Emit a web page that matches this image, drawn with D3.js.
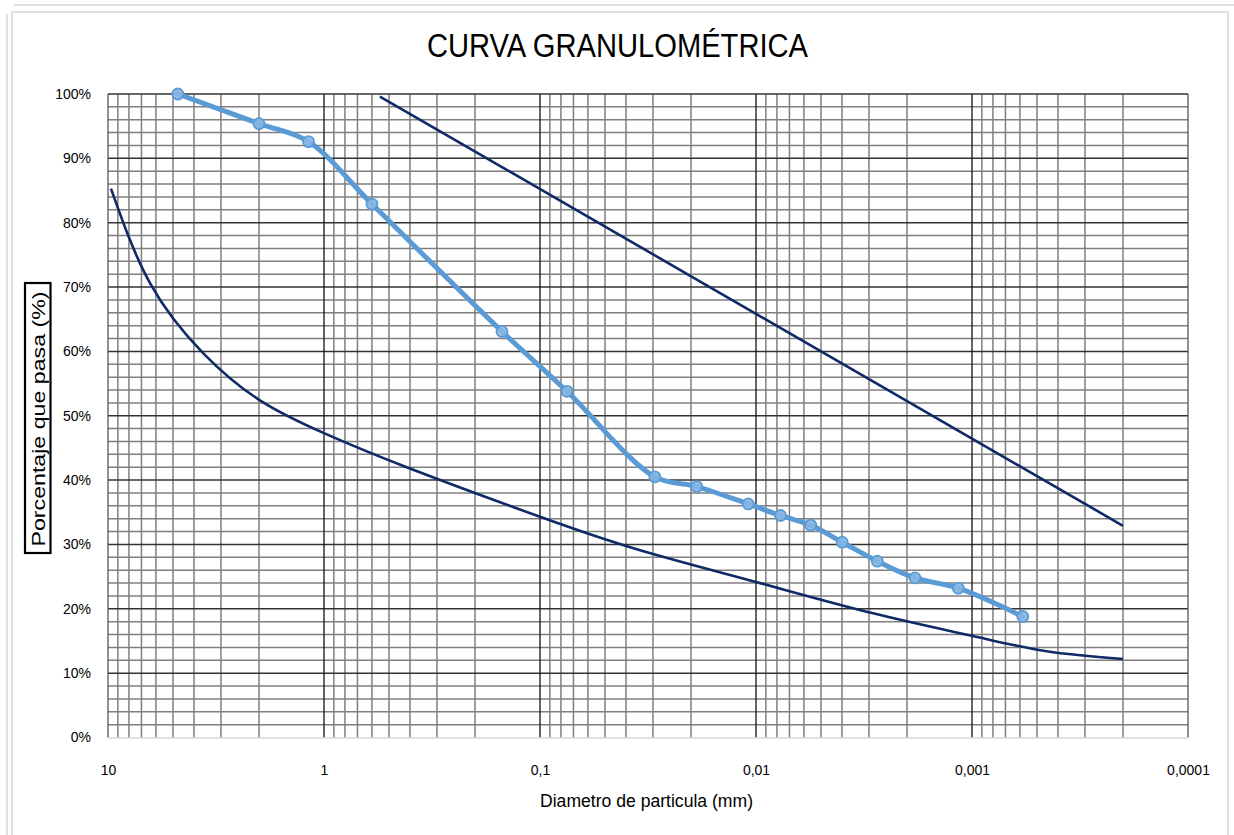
<!DOCTYPE html>
<html>
<head>
<meta charset="utf-8">
<script src="https://cdn.jsdelivr.net/npm/d3@7"></script>
<style>
  html, body { margin: 0; padding: 0; background: #fff; }
  svg { display: block; }
  text { font-family: "Liberation Sans", Arial, sans-serif; fill: #000; }
</style>
</head>
<body>
<svg id="chart" width="1234" height="835"></svg>
<script>
// ---------- DATA ----------
const titleText = "CURVA GRANULOMÉTRICA";
const xTitle = "Diametro de particula (mm)";
const yTitle = "Porcentaje que pasa (%)";

const xTickValues = [10, 1, 0.1, 0.01, 0.001, 0.0001];
const xTickLabels = ["10", "1", "0,1", "0,01", "0,001", "0,0001"];
const yTickValues = [0, 10, 20, 30, 40, 50, 60, 70, 80, 90, 100];
const yTickLabels = ["0%", "10%", "20%", "30%", "40%", "50%", "60%", "70%", "80%", "90%", "100%"];

// sample curve (light blue, with markers)
const sampleDiam = [4.75, 2.0, 1.18, 0.6, 0.15, 0.075, 0.0294, 0.0188, 0.01086, 0.0077, 0.00558, 0.00399, 0.002745, 0.001837, 0.001157, 0.000582];
const samplePass = [100, 95.4, 92.6, 82.9, 63.1, 53.8, 40.5, 39.0, 36.3, 34.5, 33.0, 30.35, 27.4, 24.8, 23.2, 18.8];

// upper limit (dark, straight)
const upperDiam = [0.551, 0.0002];
const upperPass = [99.6, 32.9];

// lower limit (dark, curved)
const lowerDiam = [9.69, 6.39, 3.62, 1.98, 1.0, 0.40, 0.1, 0.0344, 0.0101, 0.00287, 0.001, 0.000451, 0.0002];
const lowerPass = [85.3, 70.6, 59.7, 52.4, 47.3, 41.8, 34.3, 29.1, 24.2, 19.3, 15.8, 13.4, 12.2];

// ---------- CHART ----------
const svg = d3.select("#chart");
const L = 108, R = 1188, T = 94, B = 737.5;

const x = d3.scaleLog().domain([10, 0.0001]).range([L, R]);
const y = d3.scaleLinear().domain([0, 100]).range([B, T]);

// chart-area frame (light grey, as in the screenshot)
const frame = svg.append("g").attr("fill", "none").attr("stroke", "#d6d6d6").attr("stroke-width", 1.5);
frame.append("line").attr("x1", 14).attr("x2", 1234).attr("y1", 5).attr("y2", 5);
frame.append("line").attr("x1", 7).attr("x2", 7).attr("y1", 14).attr("y2", 835);
frame.append("path").attr("d", "M12,840 L12,12 L1228,12 L1228,840");

// minor grid values
const minorX = [];
for (let e = -4; e <= 0; e++) {
  for (let k = 2; k <= 9; k++) minorX.push(k * Math.pow(10, e));
}
const minorY = d3.range(0, 101, 2).filter(v => v % 10 !== 0);

const grid = svg.append("g");
grid.selectAll("line.minx").data(minorX).join("line")
  .attr("x1", d => x(d)).attr("x2", d => x(d)).attr("y1", T).attr("y2", B)
  .attr("stroke", "#7f7f7f").attr("stroke-width", 1.5);
grid.selectAll("line.miny").data(minorY).join("line")
  .attr("x1", L).attr("x2", R).attr("y1", d => y(d)).attr("y2", d => y(d))
  .attr("stroke", "#7f7f7f").attr("stroke-width", 1.5);
// major grid
grid.selectAll("line.majy").data(yTickValues.filter(v => v > 0)).join("line")
  .attr("x1", L).attr("x2", R).attr("y1", d => y(d)).attr("y2", d => y(d))
  .attr("stroke", "#333").attr("stroke-width", 1.5);
grid.selectAll("line.majx").data(xTickValues).join("line")
  .attr("x1", d => x(d)).attr("x2", d => x(d)).attr("y1", T).attr("y2", B)
  .attr("stroke", d => (d === 10 || d === 0.0001) ? "#555" : "#111").attr("stroke-width", 1.3);
// bottom axis line (light)
grid.append("line").attr("x1", L).attr("x2", R).attr("y1", B + 0.5).attr("y2", B + 0.5)
  .attr("stroke", "#d9d9d9").attr("stroke-width", 1.5);

// axes labels via d3 axes
const xAxis = svg.append("g").attr("transform", `translate(0,${B})`)
  .call(d3.axisBottom(x).tickValues(xTickValues)
    .tickFormat((d, i) => xTickLabels[i]).tickSize(0).tickPadding(28));
xAxis.select(".domain").remove();
xAxis.selectAll("text").attr("font-size", 14).attr("font-family", "Liberation Sans, Arial, sans-serif").attr("fill", "#000");

const yAxis = svg.append("g").attr("transform", `translate(${L},0)`)
  .call(d3.axisLeft(y).tickValues(yTickValues)
    .tickFormat((d, i) => yTickLabels[i]).tickSize(0).tickPadding(17));
yAxis.select(".domain").remove();
yAxis.selectAll("text").attr("font-size", 14).attr("font-family", "Liberation Sans, Arial, sans-serif").attr("fill", "#000");

// curves
const lineGen = d3.line().x(d => x(d[0])).y(d => y(d[1]));

const lowerPts = lowerDiam.map((d, i) => [d, lowerPass[i]]);
svg.append("path").datum(lowerPts)
  .attr("d", lineGen.curve(d3.curveNatural))
  .attr("fill", "none").attr("stroke", "#0f2a66").attr("stroke-width", 2.6);

const upperPts = upperDiam.map((d, i) => [d, upperPass[i]]);
svg.append("path").datum(upperPts)
  .attr("d", lineGen.curve(d3.curveLinear))
  .attr("fill", "none").attr("stroke", "#0f2a66").attr("stroke-width", 2.6);

const samplePts = sampleDiam.map((d, i) => [d, samplePass[i]]);
svg.append("path").datum(samplePts)
  .attr("d", lineGen.curve(d3.curveCatmullRom.alpha(0.5)))
  .attr("fill", "none").attr("stroke", "#5b9bd5").attr("stroke-width", 5)
  .attr("stroke-linejoin", "round").attr("stroke-linecap", "round");

svg.append("g").selectAll("circle").data(samplePts).join("circle")
  .attr("cx", d => x(d[0])).attr("cy", d => y(d[1])).attr("r", 5.5)
  .attr("fill", "#86b6e4").attr("fill-opacity", 0.9)
  .attr("stroke", "#5b9bd5").attr("stroke-width", 1.8);

// title
svg.append("text").attr("x", 617.5).attr("y", 57).attr("text-anchor", "middle")
  .attr("font-size", 34).attr("textLength", 381).attr("lengthAdjust", "spacingAndGlyphs")
  .text(titleText);

// x title
svg.append("text").attr("x", 646.5).attr("y", 807).attr("text-anchor", "middle")
  .attr("font-size", 17.5).attr("textLength", 213).attr("lengthAdjust", "spacingAndGlyphs")
  .text(xTitle);

// y title with box
svg.append("rect").attr("x", 25).attr("y", 283).attr("width", 25.5).attr("height", 270)
  .attr("fill", "none").attr("stroke", "#000").attr("stroke-width", 2.2);
svg.append("text").attr("transform", "translate(45,419) rotate(-90)").attr("text-anchor", "middle")
  .attr("font-size", 18).attr("textLength", 255).attr("lengthAdjust", "spacingAndGlyphs")
  .text(yTitle);
</script>
</body>
</html>
